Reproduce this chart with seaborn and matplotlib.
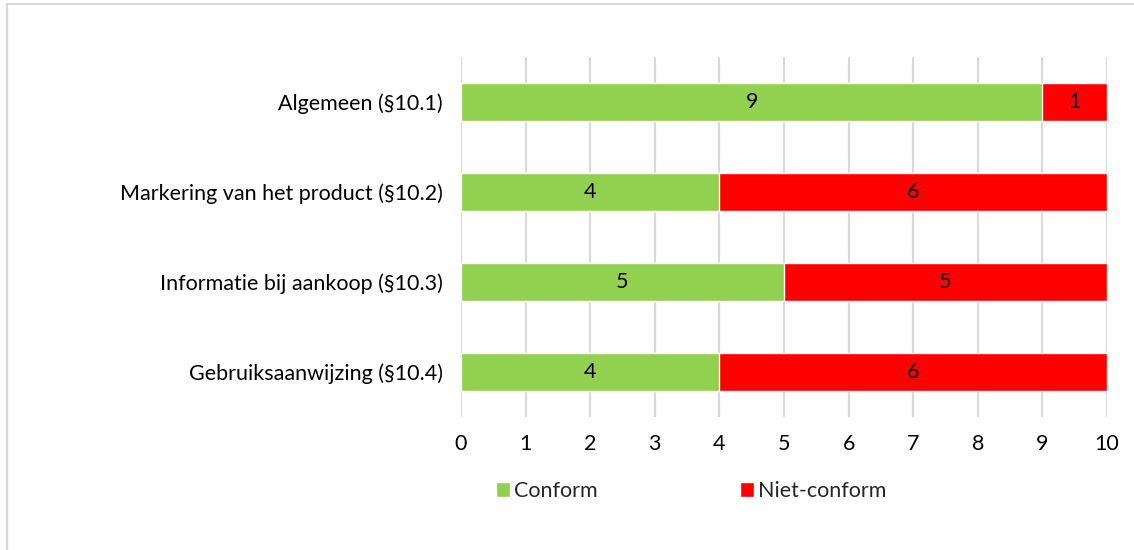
import matplotlib
matplotlib.use("Agg")
import matplotlib.pyplot as plt
from matplotlib.patches import Rectangle, Patch
import pandas as pd
import seaborn as sns

categories = ["Algemeen (§10.1)", "Markering van het product (§10.2)",
              "Informatie bij aankoop (§10.3)", "Gebruiksaanwijzing (§10.4)"]
conform = [9, 4, 5, 4]
niet_conform = [1, 6, 5, 6]
x_ticks = [0, 1, 2, 3, 4, 5, 6, 7, 8, 9, 10]

GREEN = "#92D050"
RED = "#FF0000"
GRID = "#D9D9D9"
FS = 15.5

sns.set_theme(style="white")
plt.rcParams["font.family"] = ["Lato", "DejaVu Sans"]

df = pd.DataFrame({"categorie": categories, "conform": conform, "niet": niet_conform})
df["totaal"] = df["conform"] + df["niet"]

fig = plt.figure(figsize=(11.34, 5.5), dpi=100)
ax = fig.add_axes([461 / 1134, 1 - 417 / 550, (1107 - 461) / 1134, (417 - 57) / 550])

# stacked: red total behind, green on top
sns.barplot(data=df, y="categorie", x="totaal", color=RED, orient="h",
            width=0.42, saturation=1, ax=ax, zorder=3)
sns.barplot(data=df, y="categorie", x="conform", color=GREEN, orient="h",
            width=0.42, saturation=1, ax=ax, zorder=3)

for i, row in df.iterrows():
    ax.text(row["conform"] / 2, i, str(row["conform"]), ha="center", va="center",
            fontsize=FS, color="black", zorder=4)
    ax.text(row["conform"] + row["niet"] / 2, i, str(row["niet"]), ha="center",
            va="center", fontsize=FS, color="black", zorder=4)

ax.set_xlim(0, 10)
ax.set_ylim(3.5, -0.5)
ax.set_xticks(x_ticks)
ax.set_xlabel("")
ax.set_ylabel("")
ax.tick_params(axis="x", labelsize=FS, length=0, pad=12, colors="black")
ax.tick_params(axis="y", labelsize=FS, length=0, pad=13, colors="black")
ax.grid(axis="x", color=GRID, linewidth=1.5, zorder=0)
ax.grid(axis="y", visible=False)
for s in ax.spines.values():
    s.set_visible(False)

handles = [Patch(facecolor=GREEN, label="Conform"),
           Patch(facecolor=RED, label="Niet-conform")]
fig.legend(handles=handles, loc="center", bbox_to_anchor=(691 / 1134, 1 - 491 / 550),
           ncol=2, frameon=False, fontsize=FS, handlelength=0.65, handleheight=0.65,
           handletextpad=0.2, columnspacing=6.6)

fig.patches.append(Rectangle((7 / 1134, -0.1), 1.2, 1 - 4 / 550 + 0.1,
                             transform=fig.transFigure, fill=False,
                             edgecolor=GRID, linewidth=1.5))

fig.savefig("out.png", dpi=100)
